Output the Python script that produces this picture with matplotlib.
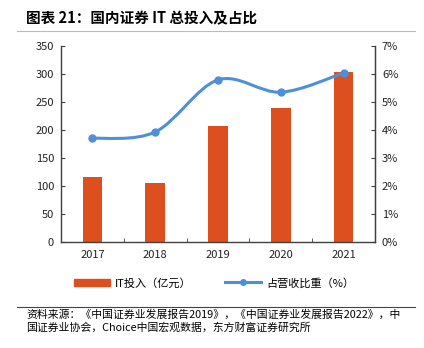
import numpy as np
import matplotlib.pyplot as plt
from matplotlib.path import Path
from matplotlib.patches import PathPatch
from matplotlib.lines import Line2D
from matplotlib.patches import Patch

plt.rcParams['font.family'] = ['Noto Sans CJK SC', 'DejaVu Sans']

years = ['2017', '2018', '2019', '2020', '2021']
it_invest = [115.5, 105, 208, 239, 304]       # 亿元
rev_share = [3.70, 3.93, 5.79, 5.35, 6.04]    # %

BAR_C = '#DD4F1E'
LINE_C = '#4F8FDA'
AX_C = '#404040'


def smooth_path(xs, ys):
    """Excel-like smoothed line: Catmull-Rom converted to cubic Bezier."""
    pts = list(zip(xs, ys))
    verts = [pts[0]]
    codes = [Path.MOVETO]
    n = len(pts)
    for i in range(n - 1):
        p0 = pts[i - 1] if i > 0 else pts[i]
        p1 = pts[i]
        p2 = pts[i + 1]
        p3 = pts[i + 2] if i + 2 < n else pts[i + 1]
        c1 = (p1[0] + (p2[0] - p0[0]) / 6, p1[1] + (p2[1] - p0[1]) / 6)
        c2 = (p2[0] - (p3[0] - p1[0]) / 6, p2[1] - (p3[1] - p1[1]) / 6)
        verts += [c1, c2, p2]
        codes += [Path.CURVE4] * 3
    return Path(verts, codes)


fig = plt.figure(figsize=(4.24, 3.48), dpi=100)
ax = fig.add_axes([61 / 424, 1 - 242 / 348, 314 / 424, 196 / 348])
x = np.arange(len(years))
ax.bar(x, it_invest, width=0.31, color=BAR_C, zorder=2)
ax.set_xlim(-0.5, len(years) - 0.5)
ax.set_ylim(0, 350)
ax.set_yticks(range(0, 351, 50))
ax.set_xticks(x)
ax.set_xticklabels(years)
ax.set_xticks(np.arange(0.5, len(years) - 0.5), minor=True)
ax.tick_params(axis='x', which='major', length=0, pad=6)
ax.tick_params(axis='x', which='minor', direction='in', length=3, color=AX_C)
ax.tick_params(axis='y', direction='in', length=3, color=AX_C, pad=5)
ax.tick_params(labelsize=8, labelcolor='#222222')
ax.spines['top'].set_visible(False)
for s in ['left', 'bottom', 'right']:
    ax.spines[s].set_color(AX_C)
    ax.spines[s].set_linewidth(1.0)

ax2 = ax.twinx()
ax2.set_ylim(0, 7)
ax2.set_yticks(range(0, 8))
ax2.set_yticklabels([f'{v}%' for v in range(0, 8)])
ax2.tick_params(axis='y', direction='in', length=3, color=AX_C, pad=5,
                labelsize=8, labelcolor='#222222')
ax2.spines['top'].set_visible(False)
ax2.spines['right'].set_color(AX_C)
ax2.spines['left'].set_visible(False)
ax2.spines['bottom'].set_visible(False)
ax2.add_patch(PathPatch(smooth_path(x, rev_share), fill=False,
                        edgecolor=LINE_C, lw=2.2, zorder=3))
ax2.plot(x, rev_share, 'o', color=LINE_C, ms=5, zorder=4)

# title and rules
fig.text(26 / 424, 1 - 18 / 348, '图表 21：国内证券 IT 总投入及占比',
         fontsize=10.5, fontweight='bold', va='center', ha='left')
fig.add_artist(Line2D([17 / 424, 415 / 424], [1 - 31 / 348] * 2,
                      color='#BBBBBB', lw=0.8))
fig.add_artist(Line2D([17 / 424, 415 / 424], [1 - 307 / 348] * 2,
                      color='#444444', lw=0.8))

# legend
handles = [Patch(color=BAR_C),
           Line2D([], [], color=LINE_C, lw=2.2, marker='o', ms=4)]
fig.legend(handles, ['IT投入（亿元）', '占营收比重（%）'], loc='center',
           bbox_to_anchor=(0.505, 1 - 283 / 348), ncol=2, frameon=False,
           fontsize=8, handlelength=3.2, columnspacing=3, handletextpad=0.5)

fig.text(26 / 424, 1 - 315 / 348,
         '资料来源：《中国证券业发展报告2019》，《中国证券业发展报告2022》，中',
         fontsize=7.8, va='center', ha='left')
fig.text(26 / 424, 1 - 328 / 348,
         '国证券业协会，Choice中国宏观数据，东方财富证券研究所',
         fontsize=7.8, va='center', ha='left')

fig.savefig('out.png', dpi=100)
